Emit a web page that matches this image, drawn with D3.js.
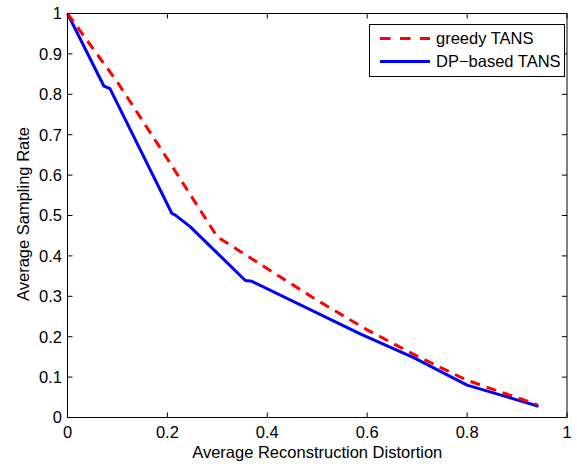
<!DOCTYPE html>
<html><head><meta charset="utf-8">
<script src="https://cdn.jsdelivr.net/npm/d3@7"></script>
<style>
body{margin:0;background:#fff;}
text{font-family:"Liberation Sans",Arial,Helvetica,sans-serif;fill:#000;}
</style></head>
<body>
<svg id="c" width="577" height="464"></svg>
<script>
const greedyX = [0, 0.1, 0.2, 0.3, 0.36, 0.5, 0.6, 0.7, 0.8, 0.94];
const greedyY = [1, 0.83, 0.64, 0.447, 0.40, 0.29, 0.217, 0.152, 0.092, 0.032];
const dpX = [0, 0.073, 0.085, 0.209, 0.216, 0.246, 0.356, 0.369, 0.586, 0.693, 0.8, 0.943];
const dpY = [1, 0.82, 0.814, 0.505, 0.501, 0.472, 0.339, 0.337, 0.207, 0.148, 0.08, 0.028];
const xTicks = [0, 0.2, 0.4, 0.6, 0.8, 1];
const yTicks = [0, 0.1, 0.2, 0.3, 0.4, 0.5, 0.6, 0.7, 0.8, 0.9, 1];
const seriesNames = ["greedy TANS", "DP\u2212based TANS"];
const xTitle = "Average Reconstruction Distortion";
const yTitle = "Average Sampling Rate";

const L = 67.5, R = 567, T = 13.5, B = 417.5;
const fs = "16.5px";
const svg = d3.select("#c");
const x = d3.scaleLinear().domain([0, 1]).range([L, R]);
const y = d3.scaleLinear().domain([0, 1]).range([B, T]);

const fmt = d => d === 0 ? "0" : d === 1 ? "1" : d3.format(".1f")(d);

// Ticks (inside, mirrored)
const tk = 5;
const g = svg.append("g").attr("stroke", "#000").attr("stroke-width", 1);
xTicks.forEach(v => {
  g.append("line").attr("x1", x(v)).attr("x2", x(v)).attr("y1", B).attr("y2", B - tk);
  g.append("line").attr("x1", x(v)).attr("x2", x(v)).attr("y1", T).attr("y2", T + tk);
});
yTicks.forEach(v => {
  g.append("line").attr("y1", y(v)).attr("y2", y(v)).attr("x1", L).attr("x2", L + tk);
  g.append("line").attr("y1", y(v)).attr("y2", y(v)).attr("x1", R).attr("x2", R - tk);
});

// Tick labels
svg.append("g").selectAll("text").data(xTicks).join("text")
  .attr("x", d => x(d)).attr("y", 438).attr("text-anchor", "middle")
  .style("font-size", fs).text(fmt);
svg.append("g").selectAll("text").data(yTicks).join("text")
  .attr("x", 62).attr("y", d => y(d)).attr("dy", "0.36em").attr("text-anchor", "end")
  .style("font-size", fs).text(fmt);

// Titles
svg.append("text").attr("x", (L + R) / 2).attr("y", 458).attr("text-anchor", "middle")
  .style("font-size", fs).text(xTitle);
svg.append("text").attr("transform", "translate(28.5,214) rotate(-90)").attr("text-anchor", "middle")
  .style("font-size", fs).text(yTitle);

// Lines
const line = d3.line().x(d => x(d[0])).y(d => y(d[1]));
const dpPts = dpX.map((v, i) => [v, dpY[i]]);
const grPts = greedyX.map((v, i) => [v, greedyY[i]]);
svg.append("path").datum(dpPts).attr("d", line).attr("fill", "none")
  .attr("stroke", "#0000ff").attr("stroke-width", 3).attr("stroke-linejoin", "round");
svg.append("path").datum(grPts).attr("d", line).attr("fill", "none")
  .attr("stroke", "#ff0000").attr("stroke-width", 3).attr("stroke-dasharray", "10,7");

// Axes box
svg.append("rect").attr("x", L).attr("y", T).attr("width", R - L).attr("height", B - T)
  .attr("fill", "none").attr("stroke", "#000").attr("stroke-width", 1);

// Legend
const lg = svg.append("g");
lg.append("rect").attr("x", 369.5).attr("y", 24.5).attr("width", 195).attr("height", 52)
  .attr("fill", "#fff").attr("stroke", "#000").attr("stroke-width", 1);
lg.append("line").attr("x1", 380).attr("x2", 430).attr("y1", 38.5).attr("y2", 38.5)
  .attr("stroke", "#ff0000").attr("stroke-width", 3).attr("stroke-dasharray", "10.5,9.5");
lg.append("line").attr("x1", 380).attr("x2", 430).attr("y1", 61.5).attr("y2", 61.5)
  .attr("stroke", "#0000ff").attr("stroke-width", 3);
lg.append("text").attr("x", 436).attr("y", 38.5).attr("dy", "0.36em").style("font-size", fs).text(seriesNames[0]);
lg.append("text").attr("x", 436).attr("y", 61.5).attr("dy", "0.36em").style("font-size", fs).text(seriesNames[1]);
</script>
</body></html>
